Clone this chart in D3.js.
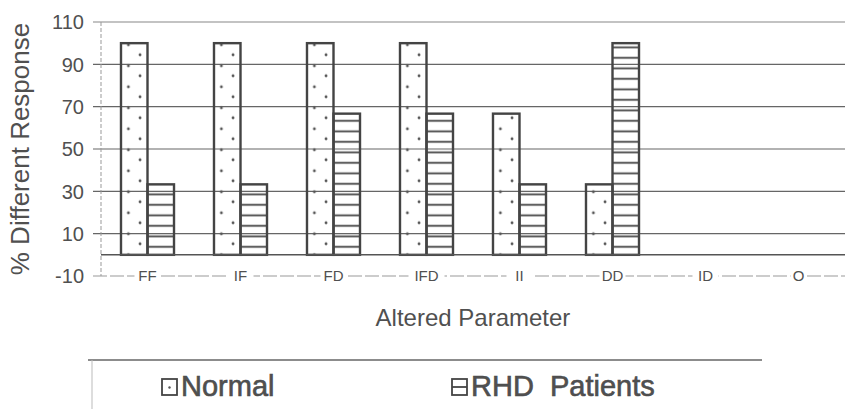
<!DOCTYPE html>
<html>
<head>
<meta charset="utf-8">
<script src="https://cdn.jsdelivr.net/npm/d3@7"></script>
<style>
  html, body { margin: 0; padding: 0; background: #fff; }
  svg { display: block; }
  text { font-family: "Liberation Sans", Arial, sans-serif; fill: #505050; }
</style>
</head>
<body>
<svg id="chart" width="848" height="409"></svg>
<script>
// Response rates per altered parameter
const categories = ["FF", "IF", "FD", "IFD", "II", "DD", "ID", "O"];
const normalValues = [100, 100, 100, 100, 66.7, 33.3, 0, 0];
const rhdValues = [33.3, 33.3, 66.7, 66.7, 33.3, 100, 0, 0];
const seriesNames = ["Normal", "RHD  Patients"];
const yTicks = [-10, 10, 30, 50, 70, 90, 110];

const svg = d3.select("#chart");

const x = d3.scaleBand().domain(categories).range([101, 845]).padding(0);
const y = d3.scaleLinear().domain([-10, 110]).range([276, 22]);
const barW = x.step() * 0.285;

const ink = "#444";
const defs = svg.append("defs");

// Dotted fill: staggered dots, repeating four times per category step
const dots = defs.append("pattern")
  .attr("id", "dots")
  .attr("patternUnits", "userSpaceOnUse")
  .attr("x", x.range()[0])
  .attr("y", y(0))
  .attr("width", x.step() / 4)
  .attr("height", 21);
dots.append("circle").attr("cx", 7.8).attr("cy", 10).attr("r", 1.4).attr("fill", "#555");
dots.append("circle").attr("cx", 19.4).attr("cy", 0).attr("r", 1.4).attr("fill", "#555");
dots.append("circle").attr("cx", 19.4).attr("cy", 21).attr("r", 1.4).attr("fill", "#555");

// Horizontal hatch fill
const hatch = defs.append("pattern")
  .attr("id", "hatch")
  .attr("patternUnits", "userSpaceOnUse")
  .attr("x", 0)
  .attr("y", y(0))
  .attr("width", 20)
  .attr("height", 10.5);
hatch.append("line").attr("x1", 0).attr("x2", 20).attr("y1", 2.5).attr("y2", 2.5)
  .attr("stroke", ink).attr("stroke-width", 1.8);

// Horizontal gridlines
const gridVals = yTicks.filter(v => v > -10);
svg.append("g").selectAll("line").data(gridVals).join("line")
  .attr("x1", 93).attr("x2", x.range()[1])
  .attr("y1", d => y(d)).attr("y2", d => y(d))
  .attr("stroke", d => d === 110 ? "#888" : "#666")
  .attr("stroke-width", 1.2);

// Bottom line (category axis)
svg.append("line")
  .attr("x1", 93).attr("x2", x.range()[1])
  .attr("y1", y(-10)).attr("y2", y(-10))
  .attr("stroke", "#999").attr("stroke-width", 1.2)
  .attr("stroke-dasharray", "14 3");

// Vertical value axis
svg.append("line")
  .attr("x1", x.range()[0]).attr("x2", x.range()[0])
  .attr("y1", y(110)).attr("y2", y(-10))
  .attr("stroke", "#999").attr("stroke-width", 1)
  .attr("stroke-dasharray", "4 2");

// Y tick labels
svg.append("g").selectAll("text").data(yTicks).join("text")
  .attr("x", 84).attr("y", d => y(d))
  .attr("dy", "0.36em")
  .attr("text-anchor", "end")
  .attr("font-size", 20)
  .text(d => d);

// Bars
const groups = svg.append("g").selectAll("g").data(categories).join("g")
  .attr("transform", d => `translate(${x(d) + x.bandwidth() / 2},0)`);

groups.append("rect")
  .attr("x", -barW)
  .attr("width", barW)
  .attr("y", (d, i) => y(normalValues[i]))
  .attr("height", (d, i) => y(0) - y(normalValues[i]))
  .attr("fill", "url(#dots)")
  .attr("stroke", ink).attr("stroke-width", 2.4)
  .style("display", (d, i) => normalValues[i] > 0 ? null : "none");

groups.append("rect")
  .attr("x", 0)
  .attr("width", barW)
  .attr("y", (d, i) => y(rhdValues[i]))
  .attr("height", (d, i) => y(0) - y(rhdValues[i]))
  .attr("fill", "url(#hatch)")
  .attr("stroke", ink).attr("stroke-width", 2.4)
  .style("display", (d, i) => rhdValues[i] > 0 ? null : "none");

// Zero line drawn above the bars
svg.append("line")
  .attr("x1", x.range()[0]).attr("x2", x.range()[1])
  .attr("y1", y(0)).attr("y2", y(0))
  .attr("stroke", "#555").attr("stroke-width", 1.5);

// Category labels sit on the bottom line with a white backing
const cat = svg.append("g").selectAll("g").data(categories).join("g")
  .attr("transform", d => `translate(${x(d) + x.bandwidth() / 2},${y(-10)})`);
cat.append("rect")
  .attr("x", d => -d.length * 5 - 3).attr("y", -7)
  .attr("width", d => d.length * 10 + 6).attr("height", 14)
  .attr("fill", "#fff");
cat.append("text")
  .attr("text-anchor", "middle")
  .attr("dy", "0.36em")
  .attr("font-size", 15)
  .attr("fill", "#777")
  .text(d => d);

// Axis titles
svg.append("text")
  .attr("transform", `translate(29,${(y(110) + y(-10)) / 2}) rotate(-90)`)
  .attr("text-anchor", "middle")
  .attr("font-size", 26)
  .text("% Different Response");

svg.append("text")
  .attr("x", 473).attr("y", 326)
  .attr("text-anchor", "middle")
  .attr("font-size", 24)
  .text("Altered Parameter");

// Legend
const legend = svg.append("g");
legend.append("line").attr("x1", 88).attr("x2", 762).attr("y1", 360).attr("y2", 360)
  .attr("stroke", "#666").attr("stroke-width", 1.3);
legend.append("line").attr("x1", 92).attr("x2", 92).attr("y1", 360).attr("y2", 409)
  .attr("stroke", "#bbb").attr("stroke-width", 1);

const legendX = [162, 452];
const items = legend.selectAll("g.item").data(seriesNames).join("g")
  .attr("class", "item")
  .attr("transform", (d, i) => `translate(${legendX[i]},379)`);
items.append("rect")
  .attr("width", 15).attr("height", 16)
  .attr("fill", "#fff").attr("stroke", ink).attr("stroke-width", 1.8);
items.filter((d, i) => i === 0).append("circle")
  .attr("cx", 7.5).attr("cy", 8.5).attr("r", 1.2).attr("fill", "#555");
items.filter((d, i) => i === 1).append("line")
  .attr("x1", 0).attr("x2", 15).attr("y1", 8).attr("y2", 8)
  .attr("stroke", ink).attr("stroke-width", 1.8);
items.append("text")
  .attr("x", 19).attr("y", 17)
  .attr("font-size", 29)
  .attr("fill", "#4a4a4a")
  .attr("stroke", "#4a4a4a").attr("stroke-width", 0.6)
  .style("white-space", "pre")
  .text(d => d);
</script>
</body>
</html>
